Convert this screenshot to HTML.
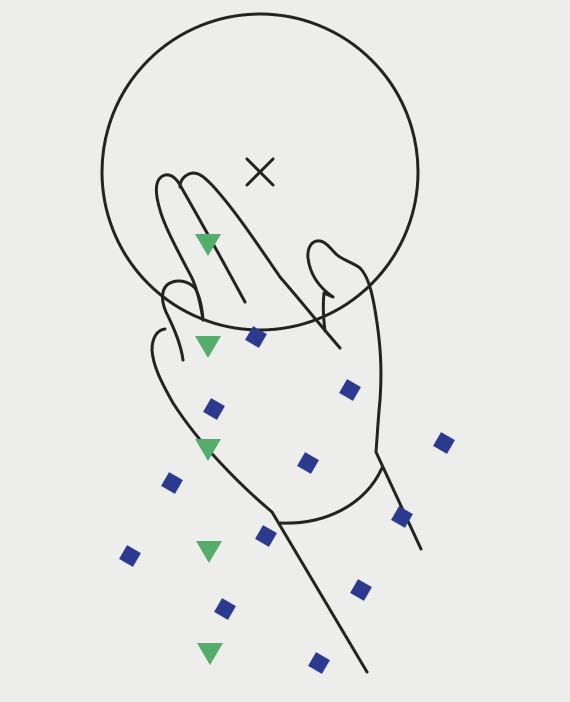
<!DOCTYPE html>
<html><head><meta charset="utf-8"><style>
html,body{margin:0;padding:0;background:#ededec;}
svg{display:block;}
</style></head><body>
<svg width="570" height="702" viewBox="0 0 570 702">
<rect width="570" height="702" fill="#ededec"/>
<g fill="none" stroke="#232323" stroke-width="3" stroke-linecap="round" stroke-linejoin="round">
<circle cx="260" cy="172" r="158"/>
<path d="M247 159 L273 185 M273 159 L247 185"/>
<path d="M203 320 C200 300 196 287 192 278 C180 255 165 228 160 210 C154 190 155 178 165 175 C171 174 176 178 180 185 C200 220 225 265 245 302"/>
<path d="M180 187 C180 180 185 174 193 173 C200 173 205 178 212 185 C235 210 258 245 280 277 C300 300 320 325 340 348"/>
<path d="M325 331 C323 315 323 302 324 293 L333 297 C320 288 310 275 308 258 C307 246 313 240 320 241 C326 242 330 248 336 254 C342 260 352 262 360 268 C368 276 372 292 375 310 C381 345 382 370 380 400 C378 420 377 440 376 452 L421 549"/>
<path d="M183 360 C181 345 175 330 166 312 C160 298 162 287 170 283 C178 279 188 281 195 288 C199 295 202 305 203 320"/>
<path d="M382 468 C365 505 325 525 280 523"/>
<path d="M165 329 C157 330 152 338 152 350 C153 365 160 380 173 403 C200 445 240 485 272 512 L367 672"/>
</g>
<g id="tri" fill="#55ad6c"></g>
<g id="dia" fill="#2b3a8f"></g>
<script>
const triX=[208,208,208,209,210];
const triY=[245,347,450,552,654];
const diaX=[256,350,214,444,308,172,402,266,130,361,225,319];
const diaY=[337,390,409,443,463,483,517,536,556,590,609,663];
const ns="http://www.w3.org/2000/svg";
const tg=document.getElementById('tri');
triX.forEach((x,i)=>{const y=triY[i];const p=document.createElementNS(ns,'polygon');
p.setAttribute('points',`${x-13},${y-11} ${x+13},${y-11} ${x},${y+11}`);


tg.appendChild(p);});
const dg=document.getElementById('dia');
diaX.forEach((x,i)=>{const y=diaY[i];const r=document.createElementNS(ns,'rect');
r.setAttribute('x',x-8);r.setAttribute('y',y-8);r.setAttribute('width',16);r.setAttribute('height',16);
r.setAttribute('transform',`rotate(30 ${x} ${y})`);


dg.appendChild(r);});
</script>
</svg>
</body></html>
